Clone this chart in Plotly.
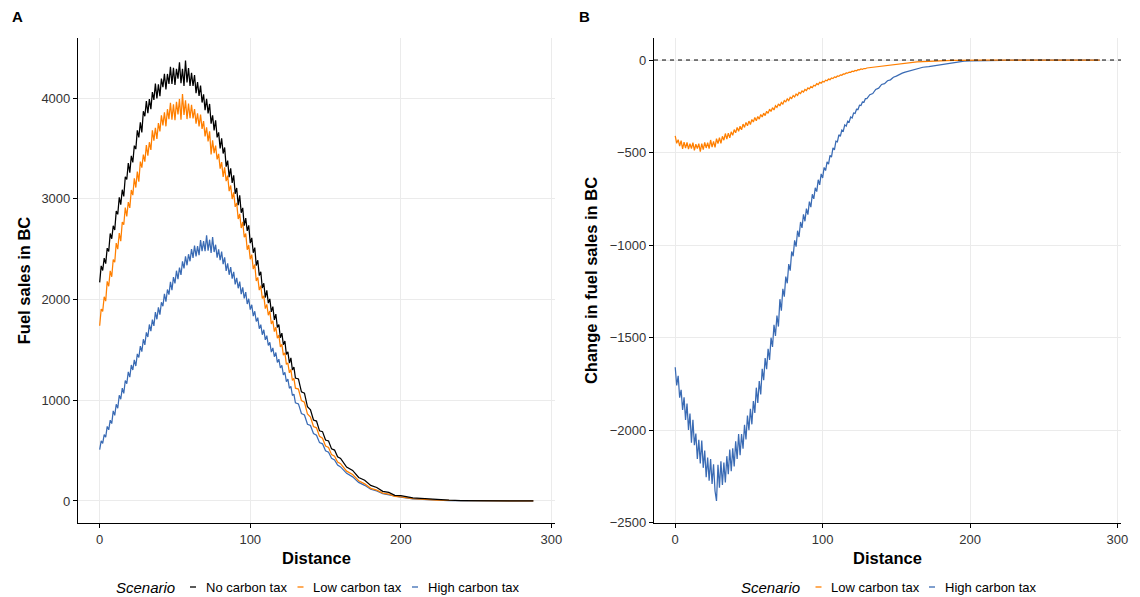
import plotly.graph_objects as go

# Distance grid shared by every series (fine steps where the curves are busy)
distance = (list(range(0, 131)) + list(range(132, 161, 2))
            + list(range(164, 201, 4)) + list(range(208, 289, 8)))

# Panel A: fuel sales in BC by scenario
sales_no_tax = [
    2170, 2334, 2288, 2412, 2356, 2510, 2478, 2656, 2604, 2732,
    2690, 2878, 2846, 3014, 2942, 3090, 3024, 3218, 3192, 3356,
    3260, 3426, 3362, 3528, 3494, 3680, 3610, 3760, 3660, 3870,
    3820, 3970, 3850, 3990, 3890, 4060, 3982, 4144, 3996, 4138,
    4020, 4194, 4108, 4242, 4086, 4240, 4140, 4310, 4140, 4300,
    4130, 4292, 4194, 4356, 4148, 4290, 4122, 4374, 4156, 4298,
    4120, 4250, 4120, 4230, 4050, 4160, 4022, 4124, 3956, 4038,
    3880, 3994, 3848, 3942, 3746, 3830, 3680, 3780, 3610, 3660,
    3500, 3600, 3450, 3510, 3320, 3380, 3216, 3302, 3158, 3234,
    3050, 3108, 2936, 3034, 2862, 2910, 2734, 2808, 2682, 2736,
    2560, 2612, 2464, 2516, 2338, 2390, 2238, 2276, 2114, 2162,
    2020, 2092, 1964, 2006, 1878, 1930, 1798, 1856, 1724, 1752,
    1620, 1666, 1552, 1588, 1454, 1480, 1370, 1420, 1300, 1330,
    1220,
    1212, 1084, 1070, 935, 905, 804, 793, 696, 688, 605, 596, 517, 505, 438, 422,
    336, 303, 233, 206, 154, 134, 95, 85, 56, 52,
    30, 21, 12, 7, 4, 2, 1, 1, 0, 0, 0,
]

sales_low_tax = [
    1740, 1906, 1882, 2028, 1984, 2180, 2132, 2284, 2226, 2398,
    2370, 2560, 2500, 2660, 2580, 2770, 2742, 2914, 2826, 2968,
    2910, 3088, 3036, 3204, 3112, 3270, 3170, 3370, 3310, 3440,
    3370, 3534, 3428, 3562, 3486, 3680, 3578, 3706, 3594, 3752,
    3670, 3830, 3730, 3860, 3720, 3890, 3792, 3954, 3786, 3938,
    3780, 3964, 3838, 3992, 3786, 4040, 3834, 3978, 3792, 3946,
    3800, 3934, 3798, 3892, 3746, 3850, 3718, 3836, 3694, 3772,
    3620, 3710, 3570, 3670, 3440, 3580, 3454, 3528, 3392, 3446,
    3300, 3364, 3218, 3312, 3176, 3230, 3076, 3132, 2998, 3064,
    2920, 2960, 2800, 2850, 2710, 2770, 2618, 2656, 2494, 2542,
    2400, 2446, 2302, 2348, 2184, 2220, 2094, 2138, 2012, 2036,
    1910, 1952, 1844, 1886, 1758, 1790, 1682, 1724, 1616, 1648,
    1530, 1554, 1448, 1472, 1356, 1370, 1272, 1304, 1196, 1218,
    1120,
    1111, 997, 980, 863, 832, 739, 726, 641, 623, 545, 531, 460, 444, 386, 370,
    296, 262, 201, 170, 125, 108, 78, 68, 45, 41,
    24, 14, 9, 5, 3, 1, 1, 0, 0, 0, 0,
]

sales_high_tax = [
    510, 596, 572, 658, 634, 740, 706, 802, 768, 894,
    850, 960, 920, 1050, 1010, 1120, 1068, 1196, 1164, 1282,
    1230, 1350, 1300, 1400, 1340, 1460, 1424, 1538, 1482, 1606,
    1550, 1674, 1628, 1752, 1686, 1800, 1738, 1876, 1804, 1922,
    1850, 1972, 1934, 2056, 1978, 2100, 2048, 2176, 2094, 2222,
    2160, 2286, 2202, 2318, 2244, 2380, 2310, 2430, 2340, 2450,
    2380, 2502, 2414, 2536, 2428, 2530, 2440, 2590, 2480, 2580,
    2480, 2638, 2486, 2594, 2462, 2620, 2472, 2544, 2416, 2498,
    2390, 2476, 2352, 2418, 2284, 2360, 2246, 2322, 2208, 2274,
    2150, 2216, 2112, 2178, 2054, 2120, 2012, 2074, 1956, 2008,
    1900, 1948, 1836, 1884, 1782, 1820, 1710, 1750, 1650, 1700,
    1600, 1642, 1544, 1576, 1478, 1520, 1432, 1474, 1376, 1408,
    1320, 1346, 1252, 1278, 1184, 1210, 1119, 1138, 1047, 1061,
    975,
    964, 868, 854, 762, 750, 669, 653, 579, 567, 498, 484, 424, 408, 356, 338,
    274, 239, 184, 155, 116, 100, 73, 61, 43, 37,
    21, 12, 7, 4, 2, 1, 0, 0, 0, 0, 0,
]

# Panel B: change in fuel sales relative to no carbon tax
change_low_tax = [
    -410, -450, -430, -465, -435, -480, -444, -476, -445, -481,
    -452, -478, -446, -488, -455, -478, -452, -495, -452, -484,
    -445, -475, -446, -479, -432, -470, -439, -472, -425, -451,
    -420, -450, -412, -433, -397, -427, -395, -420, -388, -407,
    -376, -393, -364, -385, -358, -377, -346, -364, -337, -355,
    -330, -348, -321, -335, -310, -328, -305, -319, -294, -308,
    -287, -300, -277, -288, -265, -278, -257, -270, -247, -256,
    -237, -248, -229, -238, -219, -226, -210, -219, -201, -208,
    -192, -200, -184, -191, -175, -181, -167, -173, -159, -165,
    -151, -156, -144, -149, -136, -140, -128, -133, -121, -125,
    -115, -119, -109, -112, -103, -106, -97, -100, -91, -94,
    -86, -88, -80, -82, -75, -76, -70, -71, -65, -66,
    -60, -62, -56, -58, -52, -53, -48, -50, -46, -47,
    -43,
    -41, -38, -36, -33, -31, -29, -26, -24, -22, -20, -18, -17, -15, -14, -12,
    -10, -8, -6, -5, -4, -3, -2, -2, -1, -1,
    0, 0, 0, 0, 0, 0, 0, 0, 0, 0, 0,
]

change_high_tax = [
    -1660, -1758, -1706, -1824, -1782, -1890, -1822, -1944, -1856, -1998,
    -1910, -2067, -1944, -2081, -2018, -2155, -2052, -2179, -2056, -2203,
    -2110, -2254, -2148, -2272, -2156, -2290, -2184, -2328, -2382, -2186,
    -2310, -2168, -2296, -2174, -2282, -2140, -2237, -2104, -2221, -2098,
    -2195, -2060, -2155, -2020, -2135, -2020, -2100, -1970, -2050, -1920,
    -2000, -1884, -1968, -1842, -1906, -1770, -1852, -1734, -1806, -1668,
    -1730, -1610, -1670, -1560, -1620, -1500, -1550, -1430, -1490, -1380,
    -1440, -1292, -1354, -1236, -1278, -1170, -1206, -1102, -1138, -1034,
    -1060, -974, -1008, -922, -956, -875, -907, -834, -871, -803,
    -835, -765, -795, -725, -750, -690, -711, -647, -674, -615,
    -637, -580, -597, -550, -562, -515, -525, -475, -485, -438,
    -442, -404, -412, -378, -384, -350, -357, -330, -335, -308,
    -313, -286, -289, -266, -267, -244, -246, -227, -228, -209,
    -209,
    -187, -181, -159, -152, -132, -128, -112, -107, -93, -87, -78, -71, -65, -60, -55,
    -45, -39, -35, -30, -24, -18, -12, -9, -6, -4,
    -2, -1, -1, 0, 0, 0, 0, 0, 0, 0, 0,
]

for series in (sales_no_tax, sales_low_tax, sales_high_tax, change_low_tax, change_high_tax):
    assert len(series) == len(distance)

scenario_colors = {"No carbon tax": "#000000", "Low carbon tax": "#FF7F00",
                   "High carbon tax": "#3A6BB4"}

W, H = 1140, 597
FONT = "Liberation Sans, Arial, Helvetica, sans-serif"
LINE_W = 1.25

fig = go.Figure()

# Panel A (high first so black sits on top)
for name, ys in (("High carbon tax", sales_high_tax),
                 ("Low carbon tax", sales_low_tax),
                 ("No carbon tax", sales_no_tax)):
    fig.add_trace(go.Scatter(x=distance, y=ys, mode="lines", name=name,
                             line=dict(color=scenario_colors[name], width=LINE_W),
                             xaxis="x", yaxis="y", showlegend=False))

# Panel B
for name, ys in (("High carbon tax", change_high_tax),
                 ("Low carbon tax", change_low_tax)):
    fig.add_trace(go.Scatter(x=distance, y=ys, mode="lines", name=name,
                             line=dict(color=scenario_colors[name], width=LINE_W),
                             xaxis="x2", yaxis="y2", showlegend=False))


def px_x(p):
    return p / W


def px_y(p):
    return 1 - p / H


axis_common = dict(
    showgrid=True, gridcolor="#EBEBEB", gridwidth=1,
    showline=True, linecolor="black", linewidth=1.2,
    ticks="outside", ticklen=4, tickcolor="black", tickwidth=1,
    tickfont=dict(family=FONT, size=13, color="#333333"),
    zeroline=False, automargin=False,
)
xtitle = dict(text="<b>Distance</b>", font=dict(family=FONT, size=16.5, color="black"),
              standoff=6)

y_dom = [px_y(523), px_y(38)]

fig.update_layout(
    width=W, height=H,
    margin=dict(l=0, r=0, t=0, b=0),
    paper_bgcolor="white", plot_bgcolor="white",
    font=dict(family=FONT),
    xaxis=dict(domain=[px_x(78), px_x(555)], range=[-14.4, 302.4],
               tickvals=[0, 100, 200, 300], anchor="y", title=xtitle, **axis_common),
    yaxis=dict(domain=y_dom, range=[-219, 4597], tickvals=[0, 1000, 2000, 3000, 4000],
               anchor="x",
               title=dict(text="<b>Fuel sales in BC</b>",
                          font=dict(family=FONT, size=16.5, color="black"), standoff=6),
               **axis_common),
    xaxis2=dict(domain=[px_x(654), px_x(1121)], range=[-14.4, 302.4],
                tickvals=[0, 100, 200, 300], anchor="y2", title=xtitle, **axis_common),
    yaxis2=dict(domain=y_dom, range=[-2501, 119],
                tickvals=[-2500, -2000, -1500, -1000, -500, 0], anchor="x2",
                title=dict(text="<b>Change in fuel sales in BC</b>",
                           font=dict(family=FONT, size=16.5, color="black"), standoff=8),
                **axis_common),
)

# Zero reference line in panel B
fig.add_shape(type="line", xref="x2 domain", yref="y2", x0=0, x1=1, y0=0, y1=0,
              line=dict(color="black", width=1, dash="4px,4px"), layer="above")

# Panel tags
for tag, xc in (("A", 17), ("B", 584)):
    fig.add_annotation(text=f"<b>{tag}</b>", x=px_x(xc), y=px_y(16), xref="paper", yref="paper",
                       showarrow=False, xanchor="center", yanchor="middle",
                       font=dict(family=FONT, size=15, color="black"))

# Legends below each panel
legend_y = px_y(587)


def add_legend(title_left, entries):
    fig.add_annotation(text="<i>Scenario</i>", x=px_x(title_left), y=legend_y,
                       xref="paper", yref="paper", showarrow=False, xanchor="left",
                       yanchor="middle", borderpad=0,
                       font=dict(family=FONT, size=15, color="black"))
    for name, key_c, text_left in entries:
        fig.add_shape(type="line", xref="paper", yref="paper",
                      x0=px_x(key_c - 3), x1=px_x(key_c + 3), y0=legend_y, y1=legend_y,
                      line=dict(color=scenario_colors[name], width=1.3))
        fig.add_annotation(text=name, x=px_x(text_left), y=legend_y,
                           xref="paper", yref="paper", showarrow=False, xanchor="left",
                           yanchor="middle", borderpad=0,
                           font=dict(family=FONT, size=13, color="black"))


add_legend(115, [("No carbon tax", 193, 205),
                 ("Low carbon tax", 300.5, 312),
                 ("High carbon tax", 415, 427)])
add_legend(740, [("Low carbon tax", 818.5, 829.5),
                 ("High carbon tax", 932, 944)])

fig.write_html("out.html")
